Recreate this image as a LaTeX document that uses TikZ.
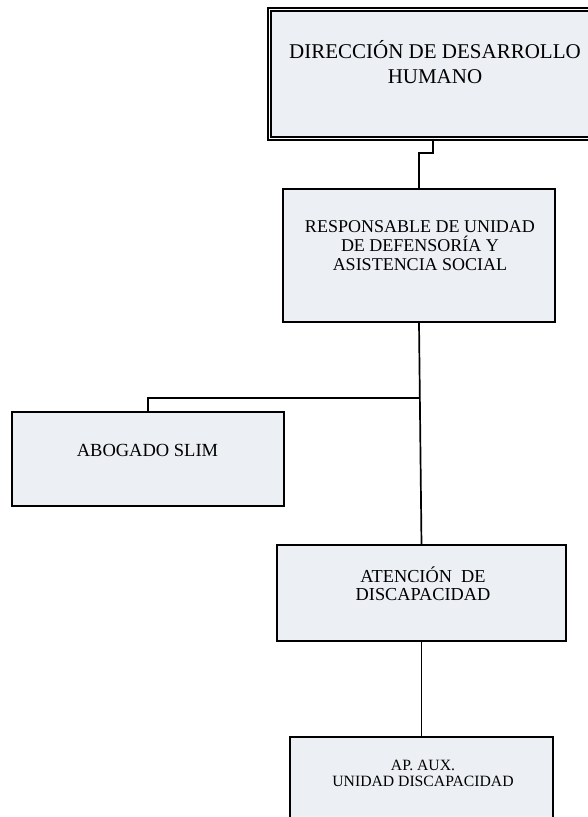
\documentclass[tikz,border=0pt]{standalone}
\usepackage{fontspec}
\setmainfont{Liberation Serif}
\definecolor{boxfill}{RGB}{236,239,244}
\begin{document}
\begin{tikzpicture}[x=1pt,y=-1pt,
  unitbox/.style={draw=black, line width=1.7pt, fill=boxfill, rectangle, inner sep=0pt, outer sep=0pt},
  headbox/.style={draw=black, line width=1.5pt, double=white, double distance=1.5pt, fill=boxfill, rectangle, inner sep=0pt, outer sep=0pt},
  caption/.style={align=center, inner sep=0pt, text=black},
  link/.style={draw=black, line width=1.7pt}]
\useasboundingbox (0,0) rectangle (588,817);
\clip (0,0) rectangle (588,817);
\fill[white] (0,0) rectangle (588,817);

% boxes
\node[headbox, minimum width=332pt, minimum height=129pt] (dir) at (435.5,74) {};
\node[unitbox, minimum width=272pt, minimum height=133pt] (resp) at (419,255.5) {};
\node[unitbox, minimum width=272pt, minimum height=94pt] (abog) at (148,459) {};
\node[unitbox, minimum width=289pt, minimum height=96pt] (aten) at (421.5,593) {};
\node[unitbox, minimum width=263pt, minimum height=110pt] (apaux) at (421.5,792) {};

% captions
\node[caption, font=\fontsize{21}{25}\selectfont] (dirt) at (435,62.5) {DIRECCIÓN DE DESARROLLO\\HUMANO};
\node[caption, font=\fontsize{18}{19}\selectfont] (respt) at (420,246) {RESPONSABLE DE UNIDAD\\DE DEFENSORÍA Y\\ASISTENCIA SOCIAL};
\node[caption, font=\fontsize{18.5}{20}\selectfont] (abogt) at (147.5,450) {ABOGADO SLIM};
\node[caption, font=\fontsize{18.3}{18}\selectfont] (atent) at (423,584) {ATENCIÓN \ DE\\DISCAPACIDAD};
\node[caption, font=\fontsize{15.7}{16}\selectfont] (apauxt) at (423,773) {AP. AUX.\\UNIDAD DISCAPACIDAD};

% connectors
\coordinate (j1) at (433,153);
\coordinate (j2) at (420,398);
\draw[link] (dir.south -| j1) -- (j1) -| (resp.north);
\draw[link] (resp.south) -- (aten.north);
\draw[link] (j2) -| (abog.north);
\draw[link] (aten.south) -- (apaux.north);
\end{tikzpicture}
\end{document}
